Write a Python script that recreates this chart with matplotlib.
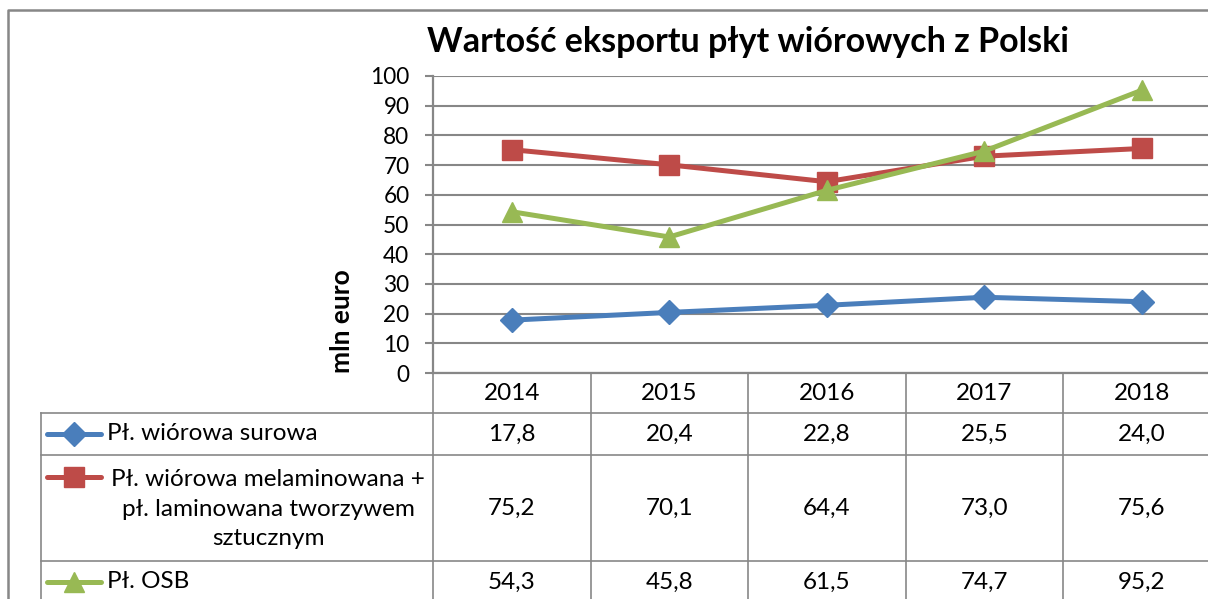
import matplotlib
matplotlib.use("Agg")
import matplotlib.pyplot as plt
from matplotlib.transforms import blended_transform_factory
from matplotlib.lines import Line2D

lata = ["2014", "2015", "2016", "2017", "2018"]
surowa = [17.8, 20.4, 22.8, 25.5, 24.0]
melaminowana = [75.2, 70.1, 64.4, 73.0, 75.6]
osb = [54.3, 45.8, 61.5, 74.7, 95.2]
nazwy = ["Pł. wiórowa surowa",
         "Pł. wiórowa melaminowana +\npł. laminowana tworzywem\nsztucznym",
         "Pł. OSB"]
tytul = "Wartość eksportu płyt wiórowych z Polski"
os_y = "mln euro"

plt.rcParams['font.family'] = ['Lato', 'DejaVu Sans']
W, H = 1208, 599
szary = "#878787"
kolory = ["#4A7EBB", "#BE4B48", "#98B954"]
znaczniki = [("D", 12), ("s", 14), ("^", 15)]
fs = 17.5

def px(x0, y0, x1, y1):
    return [x0 / W, 1 - y1 / H, (x1 - x0) / W, (y1 - y0) / H]

fig = plt.figure(figsize=(W / 100, H / 100), dpi=100)

# overlay for frame and data table (pixel coords, y down)
ov = fig.add_axes([0, 0, 1, 1])
ov.set_xlim(0, W)
ov.set_ylim(H, 0)
ov.axis("off")

ax = fig.add_axes(px(433, 76, 1220.5, 373))
ax.set_xlim(-0.5, 4.5)
ax.set_ylim(0, 100)
ax.set_yticks(range(0, 101, 10))
ax.set_xticks([])
ax.grid(axis="y", color=szary, lw=1.5)
ax.set_axisbelow(True)
for s in ["top", "right"]:
    ax.spines[s].set_visible(False)
for s in ["left", "bottom"]:
    ax.spines[s].set_color(szary)
    ax.spines[s].set_linewidth(1.6)
ax.tick_params(axis="y", length=6, width=1.5, color=szary, pad=11, labelsize=16.3)
ax.patch.set_alpha(0)

x = range(len(lata))
serie = [surowa, melaminowana, osb]
for vals, c, (m, ms) in zip(serie, kolory, znaczniki):
    ax.plot(x, vals, color=c, lw=3.6, marker=m, ms=ms, mec=c, mfc=c,
            zorder=3, clip_on=False)

fig.text(748 / W, 1 - 42 / H, tytul, ha="center", va="center",
         fontsize=24.5, fontweight="bold")
fig.text(342 / W, 1 - 321 / H, os_y, ha="center", va="center",
         rotation=90, fontsize=19, fontweight="bold")

# outer frame
ov.plot([8, 8, W + 5], [H + 5, 10, 10], color=szary, lw=1.8)

# data table
tr = blended_transform_factory(ax.transData, ov.transData)
wiersze = [373, 413, 455, 561, H + 5]
for y in wiersze[1:4]:
    ov.plot([41, W + 5], [y, y], color=szary, lw=1.2)
ov.plot([41, 41], [413, H + 5], color=szary, lw=1.2)
for i in range(len(lata) + 1):
    ov.plot([i - 0.5, i - 0.5], [373, H + 5], color=szary, lw=1.2,
            transform=tr)

for i, rok in enumerate(lata):
    ov.text(i, 393, rok, ha="center", va="center", fontsize=fs,
            transform=tr)

srodki = [434, 508, 582]
for vals, yc in zip(serie, srodki):
    for i, v in enumerate(vals):
        ov.text(i, yc, f"{v:.1f}".replace(".", ","), ha="center",
                va="center", fontsize=fs, transform=tr)

linie_y = [434, 477, 582]
for nazwa, yl, c, (m, ms) in zip(nazwy, linie_y, kolory, znaczniki):
    ov.add_line(Line2D([47, 101], [yl, yl], color=c, lw=3.6,
                       solid_capstyle="round"))
    ov.plot([74], [yl], marker=m, ms=ms, color=c, mec=c)
    if "\n" in nazwa:
        ov.text(268, 509, nazwa, ha="center", va="center", fontsize=fs,
                multialignment="center", linespacing=1.5)
    else:
        ov.text(107, yl, nazwa, ha="left", va="center", fontsize=fs)

fig.savefig("out.png", dpi=100)
